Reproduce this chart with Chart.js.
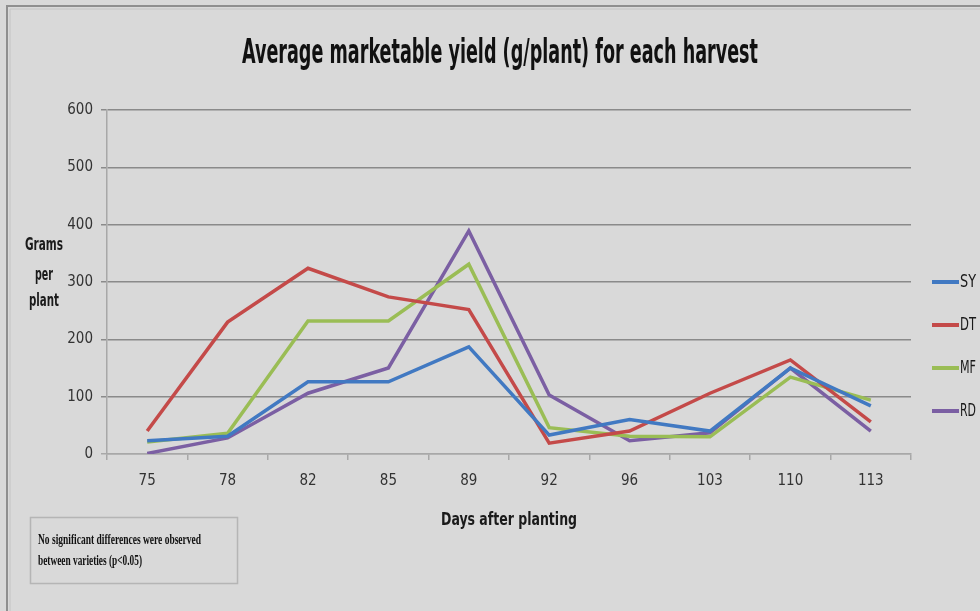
<!DOCTYPE html>
<html>
<head>
<meta charset="utf-8">
<script src="https://cdn.jsdelivr.net/npm/chart.js@4.4.1/dist/chart.umd.min.js"></script>
<style>
  html, body { margin: 0; padding: 0; background: #d9d9d9; }
  #wrap { position: relative; width: 980px; height: 611px; }
  canvas { display: block; }
</style>
</head>
<body>
<div id="wrap"><canvas id="c" width="980" height="611"></canvas></div>
<script>
// ---- data ----
const days = ["75", "78", "82", "85", "89", "92", "96", "103", "110", "113"];
const SY = [23, 31, 126, 126, 187, 33, 60, 40, 150, 84];
const DT = [40, 230, 324, 274, 252, 19, 40, 106, 164, 56];
const MF = [21, 36, 232, 232, 331, 46, 31, 30, 134, 94];
const RD = [1, 28, 106, 150, 389, 103, 23, 37, 150, 40];
const seriesNames = ["SY", "DT", "MF", "RD"];
const yTicks = [0, 100, 200, 300, 400, 500, 600];
const titleText = "Average marketable yield (g/plant) for each harvest";
const yTitleLines = ["Grams", "per", "plant"];
const xTitleText = "Days after planting";
const noteLines = ["No significant differences were observed", "between varieties (p<0.05)"];

const colors = ["#4179c2", "#c44a49", "#9abd55", "#7b5fa3"];
const NARROW = "'DejaVu Sans Condensed', 'Liberation Sans Narrow', 'Liberation Sans', sans-serif";

function fitText(ctx, text, x, y, font, maxW, align) {
  ctx.save();
  ctx.font = font;
  const w = ctx.measureText(text).width;
  const s = w > maxW ? maxW / w : 1;
  ctx.translate(x, y);
  ctx.scale(s, 1);
  ctx.textAlign = align || 'left';
  ctx.textBaseline = 'middle';
  ctx.fillText(text, 0, 0);
  ctx.restore();
}

const decor = {
  id: 'decor',
  beforeDraw(chart) {
    const ctx = chart.ctx;
    ctx.save();
    ctx.fillStyle = '#d9d9d9';
    ctx.fillRect(0, 0, chart.width, chart.height);
    // outer frame (top and left edge)
    ctx.strokeStyle = '#8f8f8f';
    ctx.lineWidth = 2;
    ctx.beginPath();
    ctx.moveTo(7, 611); ctx.lineTo(7, 6); ctx.lineTo(980, 6);
    ctx.stroke();
    ctx.strokeStyle = '#c4c4c4';
    ctx.lineWidth = 1;
    ctx.beginPath();
    ctx.moveTo(10, 611); ctx.lineTo(10, 9); ctx.lineTo(980, 9);
    ctx.stroke();
    ctx.restore();
  },
  afterDraw(chart) {
    const ctx = chart.ctx;
    const ca = chart.chartArea;
    ctx.save();
    ctx.fillStyle = '#111';
    // title
    fitText(ctx, titleText, 500, 54, "bold 34px " + NARROW, 516, 'center');
    // y title
    ctx.fillStyle = '#1a1a1a';
    const yt = [245, 275, 301];
    fitText(ctx, yTitleLines[0], 44, yt[0], "bold 18px " + NARROW, 38, 'center');
    fitText(ctx, yTitleLines[1], 44, yt[1], "bold 18px " + NARROW, 18, 'center');
    fitText(ctx, yTitleLines[2], 44, yt[2], "bold 18px " + NARROW, 30, 'center');
    // x title
    fitText(ctx, xTitleText, (ca.left + ca.right) / 2, 521, "bold 17px " + NARROW, 136, 'center');
    // legend
    const ly = [282, 325, 368, 411];
    chart.data.datasets.forEach((ds, i) => {
      ctx.strokeStyle = ds.borderColor;
      ctx.lineWidth = 4;
      ctx.beginPath();
      ctx.moveTo(932, ly[i]); ctx.lineTo(959, ly[i]);
      ctx.stroke();
      ctx.fillStyle = '#1a1a1a';
      fitText(ctx, ds.label, 960, ly[i] + 1, "17px " + NARROW, 16, 'left');
    });
    // note box
    ctx.strokeStyle = '#b5b5b5';
    ctx.lineWidth = 1.5;
    ctx.strokeRect(30.5, 517.5, 207, 66);
    ctx.fillStyle = '#111';
    fitText(ctx, noteLines[0], 38, 540, "bold 14px 'Liberation Serif', serif", 163, 'left');
    fitText(ctx, noteLines[1], 38, 561, "bold 14px 'Liberation Serif', serif", 104, 'left');
    ctx.restore();
  }
};

const datasets = [SY, DT, MF, RD].map((d, i) => ({
  label: seriesNames[i],
  data: d,
  borderColor: colors[i],
  backgroundColor: colors[i],
  borderWidth: 3.5,
  pointRadius: 0,
  tension: 0,
  fill: false,
  order: i
}));

new Chart(document.getElementById('c'), {
  type: 'line',
  data: { labels: days, datasets },
  options: {
    responsive: false,
    animation: false,
    devicePixelRatio: 1,
    layout: { padding: { left: 0, right: 69, top: 110, bottom: 0 } },
    plugins: { legend: { display: false }, title: { display: false }, tooltip: { enabled: false } },
    scales: {
      x: {
        type: 'category',
        offset: true,
        afterFit(s) { s.height = 157; },
        grid: { offset: true, drawOnChartArea: false, drawTicks: true, tickLength: 6, color: '#a8a8a8', lineWidth: 1.5 },
        border: { color: '#a8a8a8', width: 1.5 },
        ticks: { color: '#333', font: { family: NARROW, size: 15 }, padding: 12, maxRotation: 0, autoSkip: false }
      },
      y: {
        min: 0, max: 600,
        afterFit(s) { s.width = 107; },
        afterBuildTicks(s) { s.ticks = yTicks.map(v => ({ value: v })); },
        grid: { color: (c) => c.tick && c.tick.value === 0 ? '#a8a8a8' : '#8a8a8a', lineWidth: 1.5, tickLength: 6, drawTicks: true },
        border: { color: '#a8a8a8', width: 1.5 },
        ticks: { color: '#333', font: { family: NARROW, size: 15 }, padding: 8 }
      }
    }
  },
  plugins: [decor]
});
</script>
</body>
</html>
